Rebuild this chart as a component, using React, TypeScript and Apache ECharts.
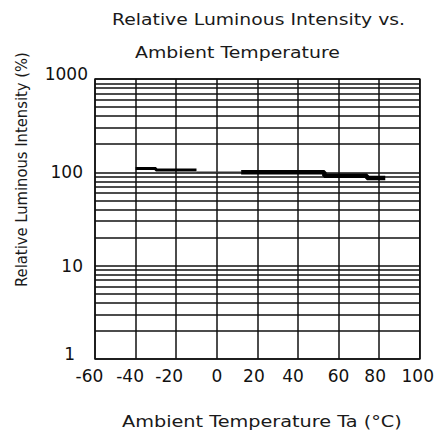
import React, { useEffect, useRef } from "react";
import * as echarts from "echarts";

// Data (temperature °C, relative luminous intensity %)
// Curve drawn in three pieces, as in the reference: thick, thin (on the 100 % line), thick
const tempColdSide = [-40, -30, -10];
const lumColdSide = [110, 106, 106];
const tempMiddle = [-10, 12];
const lumMiddle = [100, 100];
const tempWarmSide = [12, 53, 74, 83];
const lumWarmSide = [100, 92, 87, 87];

// Logarithmic minor grid values
const minorGridValues = [
  2, 3, 4, 5, 6, 7, 8, 9,
  20, 30, 40, 50, 60, 70, 80, 90,
  200, 300, 400, 500, 600, 700, 800, 900,
];

const titleLine1 = "Relative Luminous Intensity vs.";
const titleLine2 = "Ambient Temperature";
const xAxisTitle = "Ambient Temperature Ta (°C)";
const yAxisTitle = "Relative Luminous Intensity (%)";

const FONT = '"DejaVu Sans", "Liberation Sans", sans-serif';
const INK = "#111";

function measure(text: string, size: number): number {
  const ctx = document.createElement("canvas").getContext("2d");
  if (!ctx) return text.length * size * 0.55;
  ctx.font = `${size}px "DejaVu Sans"`;
  return ctx.measureText(text).width;
}

function stretchedText(text: string, x: number, y: number, targetWidth: number, rotation = 0) {
  const size = 15;
  const w = measure(text, size);
  return {
    type: "text",
    x,
    y,
    rotation,
    scaleX: targetWidth / w,
    silent: true,
    style: {
      text,
      x: 0,
      y: 0,
      fontSize: size,
      fontFamily: FONT,
      fill: "#1a1a1a",
      textAlign: "left",
      align: "left",
      textVerticalAlign: "middle",
      verticalAlign: "middle",
    },
  };
}

const xLabelShift: Record<string, number> = {
  "-60": 11, "-40": 11, "-20": 14, "0": 0, "20": 7, "40": 10, "60": 0, "80": 8, "100": 4,
};

function pairs(xs: number[], ys: number[]) {
  return xs.map((x, i) => [x, ys[i]]);
}

export default function App() {
  const ref = useRef<HTMLDivElement>(null);

  useEffect(() => {
    document.body.style.margin = "0";
    if (!ref.current) return;
    const chart = echarts.init(ref.current, null, { renderer: "svg" });

    const xKeys = Object.keys(xLabelShift);
    const xRich: Record<string, any> = {};
    xKeys.forEach((k, i) => {
      xRich["x" + i] = {
        fontSize: 17,
        fontFamily: FONT,
        color: INK,
        padding: [0, xLabelShift[k], 0, 0],
      };
    });

    const yRichBase = { fontSize: 17, fontFamily: FONT, color: INK };

    chart.setOption({
      animation: false,
      backgroundColor: "#fff",
      grid: {
        left: 95,
        top: 79,
        width: 326,
        height: 280,
        show: true,
        borderColor: INK,
        borderWidth: 1.5,
        backgroundColor: "transparent",
      },
      xAxis: {
        type: "value",
        min: -60,
        max: 100,
        interval: 20,
        axisLine: { show: false },
        axisTick: { show: false },
        splitLine: { show: true, lineStyle: { color: INK, width: 1.5 } },
        axisLabel: {
          margin: 8,
          fontSize: 17,
          fontFamily: FONT,
          color: INK,
          formatter: (v: number) => {
            const idx = xKeys.indexOf(String(v));
            return idx >= 0 ? `{x${idx}|${v}}` : String(v);
          },
          rich: xRich,
        },
      },
      yAxis: {
        type: "log",
        logBase: 10,
        min: 1,
        max: 1000,
        axisLine: { show: false },
        axisTick: { show: false },
        splitLine: { show: true, lineStyle: { color: INK, width: 1.5 } },
        axisLabel: {
          margin: 7,
          fontSize: 17,
          fontFamily: FONT,
          color: INK,
          formatter: (v: number) => {
            if (v === 1000) return "{a|1000}";
            if (v === 100) return "{b|100}";
            if (v === 10) return "{b|10}";
            if (v === 1) return "{d|1}";
            return String(v);
          },
          rich: {
            a: { ...yRichBase, padding: [0, 0, 10, 0] },
            b: { ...yRichBase, padding: [0, 5, 0, 0] },
            d: { ...yRichBase, padding: [0, 13, 10, 0] },
          },
        },
      },
      series: [
        {
          type: "line",
          step: "end",
          symbol: "none",
          data: pairs(tempColdSide, lumColdSide),
          lineStyle: { color: "#000", width: 3 },
          itemStyle: { color: "#000" },
          z: 5,
          markLine: {
            silent: true,
            symbol: ["none", "none"],
            label: { show: false },
            lineStyle: { color: INK, width: 1.5, type: "solid" },
            emphasis: { disabled: true },
            data: minorGridValues.map((v) => ({ yAxis: v })),
            z: 1,
          },
        },
        {
          type: "line",
          symbol: "none",
          data: pairs(tempMiddle, lumMiddle),
          lineStyle: { color: "#333", width: 1.5 },
          itemStyle: { color: "#333" },
          z: 4,
        },
        {
          type: "line",
          step: "end",
          symbol: "none",
          data: pairs(tempWarmSide, lumWarmSide),
          lineStyle: { color: "#000", width: 4.5 },
          itemStyle: { color: "#000" },
          z: 5,
        },
      ],
      graphic: [
        stretchedText(titleLine1, 112, 19.5, 293),
        stretchedText(titleLine2, 135, 52.5, 205),
        stretchedText(xAxisTitle, 122, 421.5, 280),
        stretchedText(yAxisTitle, 22, 287, 235, Math.PI / 2),
      ],
    });

    return () => chart.dispose();
  }, []);

  return <div ref={ref} style={{ width: 437, height: 439 }} />;
}
